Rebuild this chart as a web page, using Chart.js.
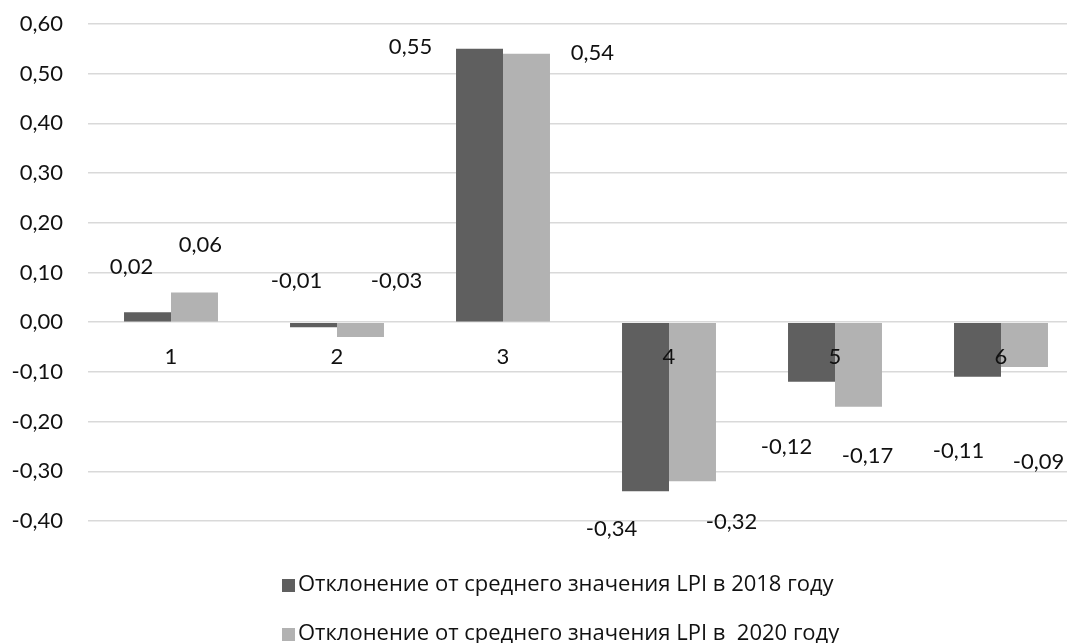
<!DOCTYPE html>
<html lang="ru">
<head>
<meta charset="UTF-8">
<title>Отклонение от среднего значения LPI</title>
<script src="https://cdn.jsdelivr.net/npm/chart.js"></script>
<style>
  html, body { margin: 0; padding: 0; background: #fff; overflow: hidden; }
  #wrap { width: 1090px; height: 643px; }
</style>
</head>
<body>
<div id="wrap"><canvas id="lpiChart" width="1090" height="643"></canvas></div>
<script>
const categories = ["1", "2", "3", "4", "5", "6"];
const dev2018 = [0.02, -0.01, 0.55, -0.34, -0.12, -0.11];
const dev2020 = [0.06, -0.03, 0.54, -0.32, -0.17, -0.09];
const seriesNames = [
  "Отклонение от среднего значения LPI в 2018 году",
  "Отклонение от среднего значения LPI в  2020 году"
];
const yMin = -0.4, yMax = 0.6, yStep = 0.1;

// сдвиг подписей значений от конца столбика (px): [dx, dy]
const labelShift = [
  [[-16, -45], [-17, -46], [-69, -2], [-34, 38], [-25, 65], [-19, 74]],
  [[6, -47], [36, -56], [66, -1], [39, 41], [9, 49], [14, 95]]
];

const numFont = "Lato, 'Open Sans', sans-serif";

function fmt(v) {
  if (Math.abs(v) < 1e-9) v = 0;
  return v.toFixed(2).replace(".", ",");
}

const valueLabels = {
  id: "valueLabels",
  afterDatasetsDraw(chart) {
    const ctx = chart.ctx;
    ctx.save();
    ctx.font = "22px " + numFont;
    ctx.fillStyle = "#111";
    ctx.textAlign = "center";
    ctx.textBaseline = "middle";
    chart.data.datasets.forEach((ds, i) => {
      chart.getDatasetMeta(i).data.forEach((bar, j) => {
        const s = labelShift[i][j];
        ctx.fillText(fmt(ds.data[j]), bar.x + s[0], bar.y + s[1]);
      });
    });
    ctx.restore();
  }
};

// легенда в две строки под графиком
const legendRows = {
  id: "legendRows",
  afterDraw(chart) {
    const ctx = chart.ctx;
    ctx.save();
    ctx.font = "22px 'Open Sans', sans-serif";
    ctx.textBaseline = "middle";
    chart.data.datasets.forEach((ds, i) => {
      const y = 585 + i * 49;
      ctx.fillStyle = ds.backgroundColor;
      ctx.fillRect(282, y - 6, 13, 13);
      ctx.fillStyle = "#111";
      ctx.fillText(ds.label, 298, y);
    });
    ctx.restore();
  }
};

new Chart(document.getElementById("lpiChart"), {
  type: "bar",
  data: {
    labels: categories,
    datasets: [
      { label: seriesNames[0], data: dev2018, backgroundColor: "#5f5f5f", borderWidth: 0 },
      { label: seriesNames[1], data: dev2020, backgroundColor: "#b2b2b2", borderWidth: 0 }
    ]
  },
  options: {
    responsive: false,
    animation: false,
    devicePixelRatio: 1,
    layout: { padding: { top: 24, right: 6, bottom: 122, left: 0 } },
    datasets: { bar: { categoryPercentage: 0.566, barPercentage: 1.0 } },
    plugins: {
      legend: { display: false },
      tooltip: { enabled: false }
    },
    scales: {
      x: {
        position: { y: 0 },
        border: { display: false },
        grid: { display: false, drawTicks: false },
        ticks: { z: 1, padding: 22, color: "#111", font: { family: numFont, size: 22 } }
      },
      y: {
        min: yMin,
        max: yMax,
        afterFit(scale) {
          scale.width = 88;
          scale.paddingTop = 0;
          scale.paddingBottom = 0;
        },
        border: { display: false },
        grid: { color: "#d9d9d9", lineWidth: 1.5, drawTicks: false },
        ticks: {
          stepSize: yStep,
          padding: 25,
          color: "#111",
          font: { family: numFont, size: 22 },
          callback: v => fmt(v)
        }
      }
    }
  },
  plugins: [valueLabels, legendRows]
});
</script>
</body>
</html>
